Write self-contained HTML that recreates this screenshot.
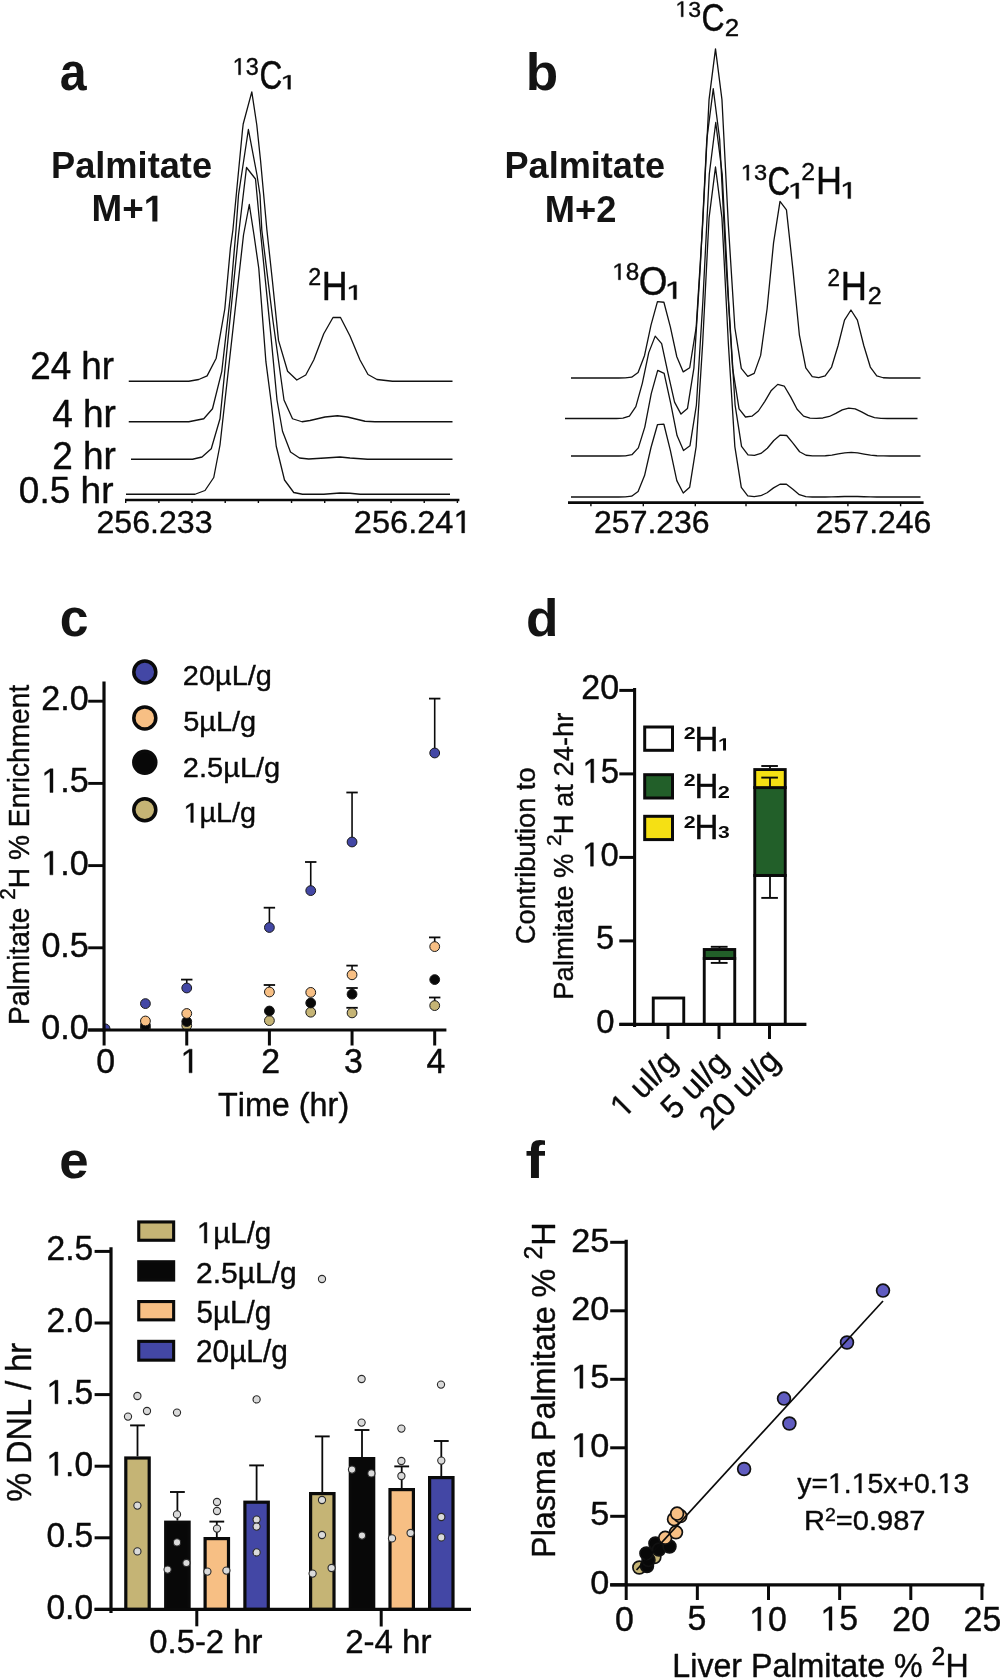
<!DOCTYPE html>
<html><head><meta charset="utf-8"><style>
html,body{margin:0;padding:0;background:#fff;}
svg{display:block;will-change:transform;font-family:"Liberation Sans",sans-serif;font-kerning:none;}
text{font-kerning:none;}
</style></head><body>
<svg width="1000" height="1678" viewBox="0 0 1000 1678">
<rect width="1000" height="1678" fill="#fff"/>
<g transform="matrix(0.89432,0.00000,0.00000,0.95491,59.835,90.496)" fill="#141414"><text x="0.000" y="0.000" font-size="54" font-weight="bold" xml:space="preserve">a</text></g>
<g transform="matrix(1.00685,0.00000,0.00000,1.00615,50.975,178.146)" fill="#141414"><text x="0.000" y="0.000" font-size="36" font-weight="bold" xml:space="preserve">Palmitate</text></g>
<g transform="matrix(1.02348,0.00000,0.00000,1.03765,91.535,221.400)" fill="#141414"><text x="0.000" y="0.000" font-size="36" font-weight="bold" xml:space="preserve">M+</text><path d="M59.414,0.000 L59.414,-20.566 L53.473,-16.857 L53.473,-20.742 L59.678,-24.768 L64.354,-24.768 L64.354,0.000 Z"/></g>
<g transform="matrix(1.05251,0.00000,0.00000,1.08827,30.147,378.600)" fill="#0a0a0a" stroke="#0a0a0a" stroke-width="0.374" stroke-linejoin="round"><text x="0.000" y="0.000" font-size="35" xml:space="preserve">24 hr</text></g>
<g transform="matrix(1.05726,0.00000,0.00000,1.09221,52.151,426.600)" fill="#0a0a0a" stroke="#0a0a0a" stroke-width="0.372" stroke-linejoin="round"><text x="0.000" y="0.000" font-size="35" xml:space="preserve">4 hr</text></g>
<g transform="matrix(1.05747,0.00000,0.00000,1.09616,52.139,469.100)" fill="#0a0a0a" stroke="#0a0a0a" stroke-width="0.372" stroke-linejoin="round"><text x="0.000" y="0.000" font-size="35" xml:space="preserve">2 hr</text></g>
<g transform="matrix(1.05767,0.00000,0.00000,1.07769,18.854,503.032)" fill="#0a0a0a" stroke="#0a0a0a" stroke-width="0.375" stroke-linejoin="round"><text x="0.000" y="0.000" font-size="35" xml:space="preserve">0.5 hr</text></g>
<g transform="matrix(1.07087,0.00000,0.00000,1.05931,96.484,532.890)" fill="#0a0a0a" stroke="#0a0a0a" stroke-width="0.376" stroke-linejoin="round"><text x="0.000" y="0.000" font-size="30" xml:space="preserve">256.233</text></g>
<g transform="matrix(1.08717,0.00000,0.00000,1.07343,353.760,532.886)" fill="#0a0a0a" stroke="#0a0a0a" stroke-width="0.370" stroke-linejoin="round"><text x="0.000" y="0.000" font-size="30" xml:space="preserve">256.24</text><path d="M99.302,0.000 L99.302,-18.120 L94.644,-14.795 L94.644,-17.285 L99.521,-20.640 L101.953,-20.640 L101.953,0.000 Z"/></g>
<g transform="matrix(1.06136,0.00000,0.00000,1.08499,232.654,74.767)" fill="#0a0a0a" stroke="#0a0a0a" stroke-width="0.373" stroke-linejoin="round"><path d="M5.532,0.000 L5.532,-13.288 L2.116,-10.850 L2.116,-12.676 L5.693,-15.136 L7.477,-15.136 L7.477,0.000 Z"/><text x="12.235" y="0.000" font-size="22" xml:space="preserve">3</text></g>
<g transform="matrix(0.83107,0.00000,0.00000,1.05188,259.496,88.910)" fill="#0a0a0a" stroke="#0a0a0a" stroke-width="0.428" stroke-linejoin="round"><text x="0.000" y="0.000" font-size="38" xml:space="preserve">C</text></g>
<g transform="matrix(1.49804,0.00000,0.00000,1.01019,280.318,89.200)" fill="#0a0a0a" stroke="#0a0a0a" stroke-width="0.325" stroke-linejoin="round"><path d="M5.029,0.000 L5.029,-12.080 L1.924,-9.863 L1.924,-11.523 L5.176,-13.760 L6.797,-13.760 L6.797,0.000 Z"/></g>
<g transform="matrix(1.05762,0.00000,0.00000,1.07413,308.230,285.200)" fill="#0a0a0a" stroke="#0a0a0a" stroke-width="0.375" stroke-linejoin="round"><text x="0.000" y="0.000" font-size="22" xml:space="preserve">2</text></g>
<g transform="matrix(0.94222,0.00000,0.00000,1.05953,321.863,299.700)" fill="#0a0a0a" stroke="#0a0a0a" stroke-width="0.400" stroke-linejoin="round"><text x="0.000" y="0.000" font-size="38" xml:space="preserve">H</text></g>
<g transform="matrix(1.58012,0.00000,0.00000,1.05380,345.960,299.700)" fill="#0a0a0a" stroke="#0a0a0a" stroke-width="0.310" stroke-linejoin="round"><path d="M5.029,0.000 L5.029,-12.080 L1.924,-9.863 L1.924,-11.523 L5.176,-13.760 L6.797,-13.760 L6.797,0.000 Z"/></g>
<polyline points="128.75,381.25 188.75,381.25 198.75,379.50 207.10,375.90 216.20,358.20 224.80,309.00 230.40,248.20 232.90,230.00 242.50,130.00 243.20,124.00 251.80,91.80 256.80,125.00 260.50,160.00 266.90,230.00 272.40,280.70 278.50,340.40 287.60,371.30 296.80,380.00 305.75,375.00 313.75,360.00 323.75,333.75 333.00,317.50 340.50,317.50 350.00,336.00 360.00,360.00 368.00,374.50 377.00,379.50 392.50,381.25 452.50,381.25" fill="none" stroke="#111" stroke-width="1.3" stroke-linejoin="round"/>
<polyline points="128.75,421.75 188.75,421.75 203.75,418.75 212.50,408.75 221.80,371.30 230.40,295.90 236.00,230.00 238.50,195.00 248.40,129.50 257.00,175.00 260.00,195.00 261.80,230.00 273.00,321.00 284.00,400.00 292.50,418.75 302.00,421.75 310.00,420.50 325.00,417.00 337.50,415.75 347.50,417.00 365.00,421.25 375.00,421.75 452.50,421.75" fill="none" stroke="#111" stroke-width="1.3" stroke-linejoin="round"/>
<polyline points="131.00,459.25 192.50,459.25 202.00,457.00 211.25,448.75 220.00,418.75 238.50,235.00 246.50,167.50 255.50,179.00 260.30,230.00 270.90,335.40 277.00,400.00 282.50,431.25 290.50,452.00 299.50,458.00 308.75,459.00 325.00,458.00 340.00,457.00 350.00,458.00 367.50,459.25 452.50,459.25" fill="none" stroke="#111" stroke-width="1.3" stroke-linejoin="round"/>
<polyline points="126.00,494.25 195.00,494.25 205.00,490.50 213.75,477.50 220.00,445.00 243.50,235.00 249.30,204.50 254.00,235.00 258.80,268.50 265.90,361.70 270.90,400.00 276.25,446.25 284.50,480.00 293.75,492.50 302.50,494.25 323.75,494.25 340.00,493.00 350.00,493.25 360.00,494.25 450.00,494.25" fill="none" stroke="#111" stroke-width="1.3" stroke-linejoin="round"/>
<line x1="125.00" y1="499.90" x2="459.40" y2="499.90" stroke="#0a0a0a" stroke-width="2.5" stroke-linecap="butt"/>
<line x1="125.70" y1="499.90" x2="125.70" y2="503.00" stroke="#0a0a0a" stroke-width="1.4" stroke-linecap="butt"/>
<line x1="158.87" y1="499.90" x2="158.87" y2="503.00" stroke="#0a0a0a" stroke-width="1.4" stroke-linecap="butt"/>
<line x1="192.04" y1="499.90" x2="192.04" y2="503.00" stroke="#0a0a0a" stroke-width="1.4" stroke-linecap="butt"/>
<line x1="225.21" y1="499.90" x2="225.21" y2="503.00" stroke="#0a0a0a" stroke-width="1.4" stroke-linecap="butt"/>
<line x1="258.38" y1="499.90" x2="258.38" y2="503.00" stroke="#0a0a0a" stroke-width="1.4" stroke-linecap="butt"/>
<line x1="291.55" y1="499.90" x2="291.55" y2="503.00" stroke="#0a0a0a" stroke-width="1.4" stroke-linecap="butt"/>
<line x1="324.72" y1="499.90" x2="324.72" y2="503.00" stroke="#0a0a0a" stroke-width="1.4" stroke-linecap="butt"/>
<line x1="357.89" y1="499.90" x2="357.89" y2="503.00" stroke="#0a0a0a" stroke-width="1.4" stroke-linecap="butt"/>
<line x1="391.06" y1="499.90" x2="391.06" y2="503.00" stroke="#0a0a0a" stroke-width="1.4" stroke-linecap="butt"/>
<line x1="424.23" y1="499.90" x2="424.23" y2="503.00" stroke="#0a0a0a" stroke-width="1.4" stroke-linecap="butt"/>
<line x1="457.40" y1="499.90" x2="457.40" y2="503.00" stroke="#0a0a0a" stroke-width="1.4" stroke-linecap="butt"/>
<g transform="matrix(1.00161,0.00000,0.00000,0.97631,525.751,90.495)" fill="#141414"><text x="0.000" y="0.000" font-size="53" font-weight="bold" xml:space="preserve">b</text></g>
<g transform="matrix(1.00366,0.00000,0.00000,1.00615,504.483,178.146)" fill="#141414"><text x="0.000" y="0.000" font-size="36" font-weight="bold" xml:space="preserve">Palmitate</text></g>
<g transform="matrix(1.00769,0.00000,0.00000,1.04230,544.773,221.900)" fill="#141414"><text x="0.000" y="0.000" font-size="36" font-weight="bold" xml:space="preserve">M+2</text></g>
<g transform="matrix(1.06613,0.00000,0.00000,1.07343,594.091,532.886)" fill="#0a0a0a" stroke="#0a0a0a" stroke-width="0.374" stroke-linejoin="round"><text x="0.000" y="0.000" font-size="30" xml:space="preserve">257.236</text></g>
<g transform="matrix(1.06708,0.00000,0.00000,1.07343,815.790,532.886)" fill="#0a0a0a" stroke="#0a0a0a" stroke-width="0.374" stroke-linejoin="round"><text x="0.000" y="0.000" font-size="30" xml:space="preserve">257.246</text></g>
<g transform="matrix(1.04733,0.00000,0.00000,1.01437,675.384,16.782)" fill="#0a0a0a" stroke="#0a0a0a" stroke-width="0.388" stroke-linejoin="round"><path d="M5.532,0.000 L5.532,-13.288 L2.116,-10.850 L2.116,-12.676 L5.693,-15.136 L7.477,-15.136 L7.477,0.000 Z"/><text x="12.235" y="0.000" font-size="22" xml:space="preserve">3</text></g>
<g transform="matrix(0.83938,0.00000,0.00000,1.04073,701.580,31.214)" fill="#0a0a0a" stroke="#0a0a0a" stroke-width="0.428" stroke-linejoin="round"><text x="0.000" y="0.000" font-size="38" xml:space="preserve">C</text></g>
<g transform="matrix(1.17736,0.00000,0.00000,1.06762,724.697,35.600)" fill="#0a0a0a" stroke="#0a0a0a" stroke-width="0.357" stroke-linejoin="round"><text x="0.000" y="0.000" font-size="22" xml:space="preserve">2</text></g>
<g transform="matrix(1.10288,0.00000,0.00000,1.06573,612.266,279.771)" fill="#0a0a0a" stroke="#0a0a0a" stroke-width="0.369" stroke-linejoin="round"><path d="M5.532,0.000 L5.532,-13.288 L2.116,-10.850 L2.116,-12.676 L5.693,-15.136 L7.477,-15.136 L7.477,0.000 Z"/><text x="12.235" y="0.000" font-size="22" xml:space="preserve">8</text></g>
<g transform="matrix(0.97149,0.00000,0.00000,1.07046,638.852,294.603)" fill="#0a0a0a" stroke="#0a0a0a" stroke-width="0.392" stroke-linejoin="round"><text x="0.000" y="0.000" font-size="38" xml:space="preserve">O</text></g>
<g transform="matrix(1.56706,0.00000,0.00000,1.12317,664.484,298.800)" fill="#0a0a0a" stroke="#0a0a0a" stroke-width="0.302" stroke-linejoin="round"><path d="M5.532,0.000 L5.532,-13.288 L2.116,-10.850 L2.116,-12.676 L5.693,-15.136 L7.477,-15.136 L7.477,0.000 Z"/></g>
<g transform="matrix(1.07071,0.00000,0.00000,1.00153,740.834,180.185)" fill="#0a0a0a" stroke="#0a0a0a" stroke-width="0.386" stroke-linejoin="round"><path d="M5.532,0.000 L5.532,-13.288 L2.116,-10.850 L2.116,-12.676 L5.693,-15.136 L7.477,-15.136 L7.477,0.000 Z"/><text x="12.235" y="0.000" font-size="22" xml:space="preserve">3</text></g>
<g transform="matrix(0.82691,0.00000,0.00000,1.06303,767.504,194.906)" fill="#0a0a0a" stroke="#0a0a0a" stroke-width="0.427" stroke-linejoin="round"><text x="0.000" y="0.000" font-size="38" xml:space="preserve">C</text></g>
<g transform="matrix(1.49244,0.00000,0.00000,1.03067,787.542,198.600)" fill="#0a0a0a" stroke="#0a0a0a" stroke-width="0.323" stroke-linejoin="round"><path d="M5.532,0.000 L5.532,-13.288 L2.116,-10.850 L2.116,-12.676 L5.693,-15.136 L7.477,-15.136 L7.477,0.000 Z"/></g>
<g transform="matrix(1.12747,0.00000,0.00000,1.08715,801.153,179.700)" fill="#0a0a0a" stroke="#0a0a0a" stroke-width="0.361" stroke-linejoin="round"><text x="0.000" y="0.000" font-size="22" xml:space="preserve">2</text></g>
<g transform="matrix(0.94693,0.00000,0.00000,1.03276,815.948,194.400)" fill="#0a0a0a" stroke="#0a0a0a" stroke-width="0.404" stroke-linejoin="round"><text x="0.000" y="0.000" font-size="38" xml:space="preserve">H</text></g>
<g transform="matrix(1.43647,0.00000,0.00000,1.07692,839.960,198.600)" fill="#0a0a0a" stroke="#0a0a0a" stroke-width="0.322" stroke-linejoin="round"><path d="M5.532,0.000 L5.532,-13.288 L2.116,-10.850 L2.116,-12.676 L5.693,-15.136 L7.477,-15.136 L7.477,0.000 Z"/></g>
<g transform="matrix(1.01771,0.00000,0.00000,1.06762,827.574,285.500)" fill="#0a0a0a" stroke="#0a0a0a" stroke-width="0.384" stroke-linejoin="round"><text x="0.000" y="0.000" font-size="22" xml:space="preserve">2</text></g>
<g transform="matrix(0.95635,0.00000,0.00000,1.05953,840.819,299.900)" fill="#0a0a0a" stroke="#0a0a0a" stroke-width="0.397" stroke-linejoin="round"><text x="0.000" y="0.000" font-size="38" xml:space="preserve">H</text></g>
<g transform="matrix(1.14742,0.00000,0.00000,1.11318,867.730,304.100)" fill="#0a0a0a" stroke="#0a0a0a" stroke-width="0.354" stroke-linejoin="round"><text x="0.000" y="0.000" font-size="22" xml:space="preserve">2</text></g>
<polyline points="571.00,378.00 573.60,378.00 580.05,378.00 586.50,378.00 592.95,378.00 599.40,378.00 605.85,378.00 612.30,378.00 618.75,378.00 625.20,377.94 631.65,377.22 638.10,372.41 644.55,355.46 651.00,325.11 657.45,301.56 663.90,302.24 670.35,326.83 676.80,356.75 683.25,371.88 689.70,367.75 696.15,327.68 702.60,225.60 709.05,99.60 715.50,48.80 721.95,99.60 728.40,225.60 734.85,327.73 741.30,368.40 747.75,376.44 754.20,373.39 760.65,355.39 767.10,308.74 773.55,242.85 780.00,201.45 786.45,209.83 792.90,269.31 799.35,334.80 805.80,367.96 812.25,376.67 818.70,377.66 825.15,375.80 831.60,367.01 838.05,345.77 844.50,320.20 850.95,310.00 857.40,320.20 863.85,345.77 870.30,367.01 876.75,375.80 883.20,377.75 889.65,377.98 896.10,378.00 902.55,378.00 909.00,378.00 915.45,378.00 920.50,378.00" fill="none" stroke="#111" stroke-width="1.3" stroke-linejoin="round"/>
<polyline points="565.00,418.50 571.35,418.50 577.80,418.50 584.25,418.50 590.70,418.50 597.15,418.50 603.60,418.50 610.05,418.50 616.50,418.48 622.95,418.20 629.40,416.05 635.85,406.62 642.30,383.32 648.75,352.63 655.20,336.13 661.65,343.57 668.10,373.54 674.55,402.16 681.00,414.09 687.45,408.53 693.90,368.12 700.35,265.85 706.80,139.64 713.25,88.75 719.70,139.64 726.15,265.85 732.60,368.14 739.05,408.85 745.50,417.01 751.95,416.16 758.40,411.01 764.85,401.37 771.30,390.44 777.75,384.36 784.20,386.01 790.65,396.84 797.10,409.28 803.55,416.11 810.00,418.12 816.45,418.38 822.90,417.98 829.35,416.48 835.80,413.41 842.25,409.83 848.70,408.04 855.15,408.79 861.60,411.90 868.05,415.42 874.50,417.55 880.95,418.31 887.40,418.48 893.85,418.50 900.30,418.50 906.75,418.50 913.20,418.50 917.50,418.50" fill="none" stroke="#111" stroke-width="1.3" stroke-linejoin="round"/>
<polyline points="571.00,456.00 573.85,456.00 580.30,456.00 586.75,456.00 593.20,456.00 599.65,456.00 606.10,456.00 612.55,456.00 619.00,455.99 625.45,455.88 631.90,454.68 638.35,447.90 644.80,427.08 651.25,393.65 657.70,370.39 664.15,373.38 670.60,402.93 677.05,435.57 683.50,450.55 689.95,445.79 696.40,405.04 702.85,301.61 709.30,173.97 715.75,122.50 722.20,173.97 728.65,301.61 735.10,405.08 741.55,446.31 748.00,454.91 754.45,455.43 760.90,453.49 767.35,448.26 773.80,440.54 780.25,435.10 786.70,435.52 793.15,443.34 799.60,451.74 806.05,455.27 812.50,455.93 818.95,455.95 825.40,455.75 831.85,455.11 838.30,453.96 844.75,452.80 851.20,452.40 857.65,452.86 864.10,454.04 870.55,455.17 877.00,455.77 883.45,455.96 889.90,456.00 896.35,456.00 902.80,456.00 909.25,456.00 915.70,456.00 920.50,456.00" fill="none" stroke="#111" stroke-width="1.3" stroke-linejoin="round"/>
<polyline points="571.00,497.00 573.60,497.00 580.05,497.00 586.50,497.00 592.95,497.00 599.40,497.00 605.85,497.00 612.30,497.00 618.75,497.00 625.20,496.93 631.65,496.17 638.10,491.46 644.55,475.62 651.00,447.50 657.45,424.70 663.90,424.22 670.35,450.41 676.80,480.61 683.25,493.06 689.70,487.16 696.15,446.60 702.60,344.23 709.05,217.93 715.50,167.00 721.95,217.93 728.40,344.23 734.85,446.61 741.30,487.41 747.75,495.96 754.20,496.71 760.65,495.73 767.10,492.72 773.55,487.89 780.00,484.20 786.45,484.26 792.90,489.33 799.35,494.66 805.80,496.66 812.25,496.98 818.70,497.00 825.15,496.99 831.60,496.93 838.05,496.75 844.50,496.51 850.95,496.40 857.40,496.50 863.85,496.75 870.30,496.93 876.75,496.99 883.20,497.00 889.65,497.00 896.10,497.00 902.55,497.00 909.00,497.00 915.45,497.00 920.50,497.00" fill="none" stroke="#111" stroke-width="1.3" stroke-linejoin="round"/>
<line x1="568.00" y1="502.60" x2="923.60" y2="502.60" stroke="#0a0a0a" stroke-width="2.7" stroke-linecap="butt"/>
<line x1="590.90" y1="502.60" x2="590.90" y2="506.30" stroke="#0a0a0a" stroke-width="1.4" stroke-linecap="butt"/>
<line x1="643.30" y1="502.60" x2="643.30" y2="506.30" stroke="#0a0a0a" stroke-width="1.4" stroke-linecap="butt"/>
<line x1="695.30" y1="502.60" x2="695.30" y2="506.30" stroke="#0a0a0a" stroke-width="1.4" stroke-linecap="butt"/>
<line x1="746.00" y1="502.60" x2="746.00" y2="506.30" stroke="#0a0a0a" stroke-width="1.4" stroke-linecap="butt"/>
<line x1="796.00" y1="502.60" x2="796.00" y2="506.30" stroke="#0a0a0a" stroke-width="1.4" stroke-linecap="butt"/>
<line x1="847.90" y1="502.60" x2="847.90" y2="506.30" stroke="#0a0a0a" stroke-width="1.4" stroke-linecap="butt"/>
<line x1="900.60" y1="502.60" x2="900.60" y2="506.30" stroke="#0a0a0a" stroke-width="1.4" stroke-linecap="butt"/>
<g transform="matrix(0.97667,0.00000,0.00000,0.97293,59.728,635.996)" fill="#141414"><text x="0.000" y="0.000" font-size="53" font-weight="bold" xml:space="preserve">c</text></g>
<circle cx="144.80" cy="672.00" r="11" fill="#4347a5" stroke="#0a0a0a" stroke-width="3.5"/>
<circle cx="144.80" cy="717.90" r="11" fill="#f7bf84" stroke="#0a0a0a" stroke-width="3.5"/>
<circle cx="144.80" cy="762.30" r="11" fill="#080808" stroke="#0a0a0a" stroke-width="3.5"/>
<circle cx="144.80" cy="809.80" r="11" fill="#c5b475" stroke="#0a0a0a" stroke-width="3.5"/>
<g transform="matrix(0.99707,0.00000,0.00000,0.96183,182.846,684.712)" fill="#0a0a0a" stroke="#0a0a0a" stroke-width="0.408" stroke-linejoin="round"><text x="0.000" y="0.000" font-size="29" xml:space="preserve">20µL/g</text></g>
<g transform="matrix(0.99827,0.00000,0.00000,0.96183,183.141,730.612)" fill="#0a0a0a" stroke="#0a0a0a" stroke-width="0.408" stroke-linejoin="round"><text x="0.000" y="0.000" font-size="29" xml:space="preserve">5µL/g</text></g>
<g transform="matrix(1.00097,0.00000,0.00000,0.96183,182.840,776.512)" fill="#0a0a0a" stroke="#0a0a0a" stroke-width="0.408" stroke-linejoin="round"><text x="0.000" y="0.000" font-size="29" xml:space="preserve">2.5µL/g</text></g>
<g transform="matrix(0.99281,0.00000,0.00000,0.96183,183.531,822.412)" fill="#0a0a0a" stroke="#0a0a0a" stroke-width="0.409" stroke-linejoin="round"><path d="M7.292,0.000 L7.292,-17.516 L2.790,-14.302 L2.790,-16.709 L7.505,-19.952 L9.855,-19.952 L9.855,0.000 Z"/><text x="16.128" y="0.000" font-size="29" xml:space="preserve">µL/g</text></g>
<clipPath id="cc"><rect x="104" y="600" width="400" height="430"/></clipPath><g clip-path="url(#cc)">
<circle cx="145.43" cy="1028.50" r="4.9" fill="#c5b475" stroke="#1a1a1a" stroke-width="1"/>
<circle cx="186.75" cy="1025.50" r="4.9" fill="#c5b475" stroke="#1a1a1a" stroke-width="1"/>
<circle cx="269.40" cy="1020.60" r="4.9" fill="#c5b475" stroke="#1a1a1a" stroke-width="1"/>
<circle cx="310.73" cy="1012.20" r="4.9" fill="#c5b475" stroke="#1a1a1a" stroke-width="1"/>
<line x1="352.05" y1="1012.90" x2="352.05" y2="1007.80" stroke="#0a0a0a" stroke-width="1.6" stroke-linecap="butt"/>
<line x1="346.35" y1="1007.80" x2="357.75" y2="1007.80" stroke="#0a0a0a" stroke-width="1.8" stroke-linecap="butt"/>
<circle cx="352.05" cy="1012.90" r="4.9" fill="#c5b475" stroke="#1a1a1a" stroke-width="1"/>
<line x1="434.70" y1="1005.60" x2="434.70" y2="997.50" stroke="#0a0a0a" stroke-width="1.6" stroke-linecap="butt"/>
<line x1="429.00" y1="997.50" x2="440.40" y2="997.50" stroke="#0a0a0a" stroke-width="1.8" stroke-linecap="butt"/>
<circle cx="434.70" cy="1005.60" r="4.9" fill="#c5b475" stroke="#1a1a1a" stroke-width="1"/>
<circle cx="145.43" cy="1025.50" r="4.9" fill="#080808" stroke="#1a1a1a" stroke-width="1"/>
<circle cx="186.75" cy="1021.60" r="4.9" fill="#080808" stroke="#1a1a1a" stroke-width="1"/>
<circle cx="269.40" cy="1011.00" r="4.9" fill="#080808" stroke="#1a1a1a" stroke-width="1"/>
<circle cx="310.73" cy="1003.00" r="4.9" fill="#080808" stroke="#1a1a1a" stroke-width="1"/>
<line x1="352.05" y1="994.20" x2="352.05" y2="988.00" stroke="#0a0a0a" stroke-width="1.6" stroke-linecap="butt"/>
<line x1="346.35" y1="988.00" x2="357.75" y2="988.00" stroke="#0a0a0a" stroke-width="1.8" stroke-linecap="butt"/>
<circle cx="352.05" cy="994.20" r="4.9" fill="#080808" stroke="#1a1a1a" stroke-width="1"/>
<circle cx="434.70" cy="979.60" r="4.9" fill="#080808" stroke="#1a1a1a" stroke-width="1"/>
<circle cx="145.43" cy="1021.00" r="4.9" fill="#f7bf84" stroke="#1a1a1a" stroke-width="1"/>
<circle cx="186.75" cy="1013.50" r="4.9" fill="#f7bf84" stroke="#1a1a1a" stroke-width="1"/>
<line x1="269.40" y1="992.00" x2="269.40" y2="985.00" stroke="#0a0a0a" stroke-width="1.6" stroke-linecap="butt"/>
<line x1="263.70" y1="985.00" x2="275.10" y2="985.00" stroke="#0a0a0a" stroke-width="1.8" stroke-linecap="butt"/>
<circle cx="269.40" cy="992.00" r="4.9" fill="#f7bf84" stroke="#1a1a1a" stroke-width="1"/>
<circle cx="310.73" cy="992.40" r="4.9" fill="#f7bf84" stroke="#1a1a1a" stroke-width="1"/>
<line x1="352.05" y1="974.80" x2="352.05" y2="965.60" stroke="#0a0a0a" stroke-width="1.6" stroke-linecap="butt"/>
<line x1="346.35" y1="965.60" x2="357.75" y2="965.60" stroke="#0a0a0a" stroke-width="1.8" stroke-linecap="butt"/>
<circle cx="352.05" cy="974.80" r="4.9" fill="#f7bf84" stroke="#1a1a1a" stroke-width="1"/>
<line x1="434.70" y1="946.60" x2="434.70" y2="937.40" stroke="#0a0a0a" stroke-width="1.6" stroke-linecap="butt"/>
<line x1="429.00" y1="937.40" x2="440.40" y2="937.40" stroke="#0a0a0a" stroke-width="1.8" stroke-linecap="butt"/>
<circle cx="434.70" cy="946.60" r="4.9" fill="#f7bf84" stroke="#1a1a1a" stroke-width="1"/>
<circle cx="105.09" cy="1028.80" r="4.9" fill="#4347a5" stroke="#1a1a1a" stroke-width="1"/>
<circle cx="145.43" cy="1003.60" r="4.9" fill="#4347a5" stroke="#1a1a1a" stroke-width="1"/>
<line x1="186.75" y1="988.00" x2="186.75" y2="979.60" stroke="#0a0a0a" stroke-width="1.6" stroke-linecap="butt"/>
<line x1="181.05" y1="979.60" x2="192.45" y2="979.60" stroke="#0a0a0a" stroke-width="1.8" stroke-linecap="butt"/>
<circle cx="186.75" cy="988.00" r="4.9" fill="#4347a5" stroke="#1a1a1a" stroke-width="1"/>
<line x1="269.40" y1="927.50" x2="269.40" y2="907.70" stroke="#0a0a0a" stroke-width="1.6" stroke-linecap="butt"/>
<line x1="263.70" y1="907.70" x2="275.10" y2="907.70" stroke="#0a0a0a" stroke-width="1.8" stroke-linecap="butt"/>
<circle cx="269.40" cy="927.50" r="4.9" fill="#4347a5" stroke="#1a1a1a" stroke-width="1"/>
<line x1="310.73" y1="890.60" x2="310.73" y2="862.00" stroke="#0a0a0a" stroke-width="1.6" stroke-linecap="butt"/>
<line x1="305.03" y1="862.00" x2="316.43" y2="862.00" stroke="#0a0a0a" stroke-width="1.8" stroke-linecap="butt"/>
<circle cx="310.73" cy="890.60" r="4.9" fill="#4347a5" stroke="#1a1a1a" stroke-width="1"/>
<line x1="352.05" y1="842.00" x2="352.05" y2="792.50" stroke="#0a0a0a" stroke-width="1.6" stroke-linecap="butt"/>
<line x1="346.35" y1="792.50" x2="357.75" y2="792.50" stroke="#0a0a0a" stroke-width="1.8" stroke-linecap="butt"/>
<circle cx="352.05" cy="842.00" r="4.9" fill="#4347a5" stroke="#1a1a1a" stroke-width="1"/>
<line x1="434.70" y1="753.00" x2="434.70" y2="698.60" stroke="#0a0a0a" stroke-width="1.6" stroke-linecap="butt"/>
<line x1="429.00" y1="698.60" x2="440.40" y2="698.60" stroke="#0a0a0a" stroke-width="1.8" stroke-linecap="butt"/>
<circle cx="434.70" cy="753.00" r="4.9" fill="#4347a5" stroke="#1a1a1a" stroke-width="1"/>
</g>
<line x1="104.00" y1="681.60" x2="104.00" y2="1031.60" stroke="#0a0a0a" stroke-width="3.2" stroke-linecap="butt"/>
<line x1="88.20" y1="1030.00" x2="446.40" y2="1030.00" stroke="#0a0a0a" stroke-width="3.2" stroke-linecap="butt"/>
<g transform="matrix(1.13778,0.00000,0.00000,1.14876,41.283,710.463)" fill="#0a0a0a" stroke="#0a0a0a" stroke-width="0.350" stroke-linejoin="round"><text x="0.000" y="0.000" font-size="30" xml:space="preserve">2.0</text></g>
<line x1="88.20" y1="1030.00" x2="104.00" y2="1030.00" stroke="#0a0a0a" stroke-width="2.9" stroke-linecap="butt"/>
<g transform="matrix(1.13778,0.00000,0.00000,1.14876,41.283,1039.263)" fill="#0a0a0a" stroke="#0a0a0a" stroke-width="0.350" stroke-linejoin="round"><text x="0.000" y="0.000" font-size="30" xml:space="preserve">0.0</text></g>
<line x1="88.20" y1="947.80" x2="104.00" y2="947.80" stroke="#0a0a0a" stroke-width="2.9" stroke-linecap="butt"/>
<g transform="matrix(1.13778,0.00000,0.00000,1.14876,41.383,957.063)" fill="#0a0a0a" stroke="#0a0a0a" stroke-width="0.350" stroke-linejoin="round"><text x="0.000" y="0.000" font-size="30" xml:space="preserve">0.5</text></g>
<line x1="88.20" y1="865.60" x2="104.00" y2="865.60" stroke="#0a0a0a" stroke-width="2.9" stroke-linecap="butt"/>
<g transform="matrix(1.13778,0.00000,0.00000,1.14876,41.283,874.863)" fill="#0a0a0a" stroke="#0a0a0a" stroke-width="0.350" stroke-linejoin="round"><path d="M7.544,0.000 L7.544,-18.120 L2.886,-14.795 L2.886,-17.285 L7.764,-20.640 L10.195,-20.640 L10.195,0.000 Z"/><text x="16.685" y="0.000" font-size="30" xml:space="preserve">.0</text></g>
<line x1="88.20" y1="783.40" x2="104.00" y2="783.40" stroke="#0a0a0a" stroke-width="2.9" stroke-linecap="butt"/>
<g transform="matrix(1.13778,0.00000,0.00000,1.14876,41.383,792.487)" fill="#0a0a0a" stroke="#0a0a0a" stroke-width="0.350" stroke-linejoin="round"><path d="M7.544,0.000 L7.544,-18.120 L2.886,-14.795 L2.886,-17.285 L7.764,-20.640 L10.195,-20.640 L10.195,0.000 Z"/><text x="16.685" y="0.000" font-size="30" xml:space="preserve">.5</text></g>
<line x1="88.20" y1="701.20" x2="104.00" y2="701.20" stroke="#0a0a0a" stroke-width="2.9" stroke-linecap="butt"/>
<g transform="matrix(1.12964,0.00000,0.00000,1.14876,96.176,1072.863)" fill="#0a0a0a" stroke="#0a0a0a" stroke-width="0.351" stroke-linejoin="round"><text x="0.000" y="0.000" font-size="30" xml:space="preserve">0</text></g>
<g transform="matrix(1.12964,0.00000,0.00000,1.14876,180.562,1072.855)" fill="#0a0a0a" stroke="#0a0a0a" stroke-width="0.351" stroke-linejoin="round"><path d="M7.544,0.000 L7.544,-18.120 L2.886,-14.795 L2.886,-17.285 L7.764,-20.640 L10.195,-20.640 L10.195,0.000 Z"/></g>
<g transform="matrix(1.12964,0.00000,0.00000,1.14876,261.176,1073.032)" fill="#0a0a0a" stroke="#0a0a0a" stroke-width="0.351" stroke-linejoin="round"><text x="0.000" y="0.000" font-size="30" xml:space="preserve">2</text></g>
<g transform="matrix(1.12964,0.00000,0.00000,1.14876,343.925,1072.863)" fill="#0a0a0a" stroke="#0a0a0a" stroke-width="0.351" stroke-linejoin="round"><text x="0.000" y="0.000" font-size="30" xml:space="preserve">3</text></g>
<g transform="matrix(1.12964,0.00000,0.00000,1.14876,426.584,1072.855)" fill="#0a0a0a" stroke="#0a0a0a" stroke-width="0.351" stroke-linejoin="round"><text x="0.000" y="0.000" font-size="30" xml:space="preserve">4</text></g>
<line x1="104.10" y1="1030.00" x2="104.10" y2="1045.50" stroke="#0a0a0a" stroke-width="3" stroke-linecap="butt"/>
<line x1="186.75" y1="1030.00" x2="186.75" y2="1045.50" stroke="#0a0a0a" stroke-width="3" stroke-linecap="butt"/>
<line x1="269.40" y1="1030.00" x2="269.40" y2="1045.50" stroke="#0a0a0a" stroke-width="3" stroke-linecap="butt"/>
<line x1="352.05" y1="1030.00" x2="352.05" y2="1045.50" stroke="#0a0a0a" stroke-width="3" stroke-linecap="butt"/>
<line x1="434.70" y1="1030.00" x2="434.70" y2="1045.50" stroke="#0a0a0a" stroke-width="3" stroke-linecap="butt"/>
<g transform="matrix(1.07873,0.00000,0.00000,1.10021,217.973,1115.667)" fill="#0a0a0a" stroke="#0a0a0a" stroke-width="0.367" stroke-linejoin="round"><text x="0.000" y="0.000" font-size="30" xml:space="preserve">Time (hr)</text></g>
<g transform="matrix(0.00000,-0.97119,1.01796,0.00000,28.512,1025.010)" fill="#0a0a0a" stroke="#0a0a0a" stroke-width="0.402" stroke-linejoin="round"><text x="0.000" y="0.000" font-size="29" xml:space="preserve">Palmitate </text><text x="128.942" y="-12.800" font-size="21.5" xml:space="preserve">2</text><text x="140.900" y="0.000" font-size="29" xml:space="preserve">H % Enrichment</text></g>
<g transform="matrix(1.00348,0.00000,0.00000,0.98274,525.919,635.991)" fill="#141414"><text x="0.000" y="0.000" font-size="53" font-weight="bold" xml:space="preserve">d</text></g>
<rect x="653.25" y="998.01" width="30.50" height="26.39" fill="#fff" stroke="#0a0a0a" stroke-width="2.9"/>
<rect x="704.25" y="958.50" width="30.50" height="65.90" fill="#fff" stroke="#0a0a0a" stroke-width="2.9"/>
<rect x="704.25" y="949.50" width="30.50" height="9.00" fill="#225f29" stroke="#0a0a0a" stroke-width="2.9"/>
<rect x="754.75" y="875.44" width="30.50" height="148.96" fill="#fff" stroke="#0a0a0a" stroke-width="2.9"/>
<rect x="754.75" y="787.59" width="30.50" height="87.84" fill="#225f29" stroke="#0a0a0a" stroke-width="2.9"/>
<rect x="754.75" y="769.56" width="30.50" height="18.04" fill="#f5e014" stroke="#0a0a0a" stroke-width="2.9"/>
<line x1="661.00" y1="997.90" x2="676.00" y2="997.90" stroke="#0a0a0a" stroke-width="1.8" stroke-linecap="butt"/>
<line x1="719.50" y1="958.50" x2="719.50" y2="962.90" stroke="#0a0a0a" stroke-width="1.8" stroke-linecap="butt"/>
<line x1="710.80" y1="962.90" x2="727.60" y2="962.90" stroke="#0a0a0a" stroke-width="1.9" stroke-linecap="butt"/>
<line x1="719.50" y1="946.80" x2="719.50" y2="948.00" stroke="#0a0a0a" stroke-width="1.8" stroke-linecap="butt"/>
<line x1="710.80" y1="946.80" x2="727.60" y2="946.80" stroke="#0a0a0a" stroke-width="1.9" stroke-linecap="butt"/>
<line x1="770.00" y1="875.40" x2="770.00" y2="897.90" stroke="#0a0a0a" stroke-width="1.8" stroke-linecap="butt"/>
<line x1="761.30" y1="897.90" x2="777.90" y2="897.90" stroke="#0a0a0a" stroke-width="1.9" stroke-linecap="butt"/>
<line x1="770.00" y1="766.00" x2="770.00" y2="768.50" stroke="#0a0a0a" stroke-width="1.8" stroke-linecap="butt"/>
<line x1="761.30" y1="766.00" x2="777.90" y2="766.00" stroke="#0a0a0a" stroke-width="1.9" stroke-linecap="butt"/>
<line x1="770.00" y1="777.60" x2="770.00" y2="787.00" stroke="#0a0a0a" stroke-width="1.8" stroke-linecap="butt"/>
<line x1="761.30" y1="777.60" x2="777.90" y2="777.60" stroke="#0a0a0a" stroke-width="1.9" stroke-linecap="butt"/>
<line x1="634.60" y1="688.00" x2="634.60" y2="1027.00" stroke="#0a0a0a" stroke-width="3.1" stroke-linecap="butt"/>
<line x1="619.50" y1="1024.40" x2="806.40" y2="1024.40" stroke="#0a0a0a" stroke-width="3.1" stroke-linecap="butt"/>
<line x1="619.30" y1="1024.40" x2="634.60" y2="1024.40" stroke="#0a0a0a" stroke-width="3" stroke-linecap="butt"/>
<line x1="619.30" y1="940.90" x2="634.60" y2="940.90" stroke="#0a0a0a" stroke-width="3" stroke-linecap="butt"/>
<line x1="619.30" y1="857.40" x2="634.60" y2="857.40" stroke="#0a0a0a" stroke-width="3" stroke-linecap="butt"/>
<line x1="619.30" y1="773.90" x2="634.60" y2="773.90" stroke="#0a0a0a" stroke-width="3" stroke-linecap="butt"/>
<line x1="619.30" y1="690.40" x2="634.60" y2="690.40" stroke="#0a0a0a" stroke-width="3" stroke-linecap="butt"/>
<line x1="668.00" y1="1024.40" x2="668.00" y2="1039.00" stroke="#0a0a0a" stroke-width="3" stroke-linecap="butt"/>
<line x1="719.00" y1="1024.40" x2="719.00" y2="1039.00" stroke="#0a0a0a" stroke-width="3" stroke-linecap="butt"/>
<line x1="769.50" y1="1024.40" x2="769.50" y2="1039.00" stroke="#0a0a0a" stroke-width="3" stroke-linecap="butt"/>
<g transform="matrix(1.03089,0.00000,0.00000,1.03577,581.289,698.866)" fill="#0a0a0a" stroke="#0a0a0a" stroke-width="0.387" stroke-linejoin="round"><text x="0.000" y="0.000" font-size="33" xml:space="preserve">20</text></g>
<g transform="matrix(0.99857,0.00000,0.00000,1.04231,582.530,782.664)" fill="#0a0a0a" stroke="#0a0a0a" stroke-width="0.392" stroke-linejoin="round"><path d="M8.298,0.000 L8.298,-19.932 L3.174,-16.274 L3.174,-19.014 L8.540,-22.704 L11.215,-22.704 L11.215,0.000 Z"/><text x="18.353" y="0.000" font-size="33" xml:space="preserve">5</text></g>
<g transform="matrix(0.99557,0.00000,0.00000,1.03149,582.240,866.168)" fill="#0a0a0a" stroke="#0a0a0a" stroke-width="0.395" stroke-linejoin="round"><path d="M8.298,0.000 L8.298,-19.932 L3.174,-16.274 L3.174,-19.014 L8.540,-22.704 L11.215,-22.704 L11.215,0.000 Z"/><text x="18.353" y="0.000" font-size="33" xml:space="preserve">0</text></g>
<g transform="matrix(0.99067,0.00000,0.00000,1.02928,595.991,949.368)" fill="#0a0a0a" stroke="#0a0a0a" stroke-width="0.396" stroke-linejoin="round"><text x="0.000" y="0.000" font-size="33" xml:space="preserve">5</text></g>
<g transform="matrix(0.99525,0.00000,0.00000,1.02721,596.217,1032.869)" fill="#0a0a0a" stroke="#0a0a0a" stroke-width="0.396" stroke-linejoin="round"><text x="0.000" y="0.000" font-size="33" xml:space="preserve">0</text></g>
<g transform="matrix(0.76110,-0.76110,0.76110,0.76110,623.418,1119.395)" fill="#0a0a0a" stroke="#0a0a0a" stroke-width="0.372" stroke-linejoin="round"><path d="M7.544,0.000 L7.544,-18.120 L2.886,-14.795 L2.886,-17.285 L7.764,-20.640 L10.195,-20.640 L10.195,0.000 Z"/><text x="16.685" y="0.000" font-size="30" xml:space="preserve"> ul/g</text></g>
<g transform="matrix(0.76728,-0.76728,0.76728,0.76728,673.972,1120.945)" fill="#0a0a0a" stroke="#0a0a0a" stroke-width="0.369" stroke-linejoin="round"><text x="0.000" y="0.000" font-size="30" xml:space="preserve">5 ul/g</text></g>
<g transform="matrix(0.76932,-0.76932,0.76932,0.76932,712.594,1131.581)" fill="#0a0a0a" stroke="#0a0a0a" stroke-width="0.368" stroke-linejoin="round"><text x="0.000" y="0.000" font-size="30" xml:space="preserve">20 ul/g</text></g>
<rect x="644.70" y="727.00" width="27.80" height="23.30" fill="#fff" stroke="#0a0a0a" stroke-width="3"/>
<rect x="644.70" y="774.70" width="27.80" height="23.30" fill="#225f29" stroke="#0a0a0a" stroke-width="3"/>
<rect x="644.70" y="816.30" width="27.80" height="23.30" fill="#f5e014" stroke="#0a0a0a" stroke-width="3"/>
<g transform="matrix(1.25847,0.00000,0.00000,0.99409,683.758,739.000)" fill="#0a0a0a"><text x="0.000" y="0.000" font-size="17" font-weight="bold" xml:space="preserve">2</text></g>
<g transform="matrix(1.00360,0.00000,0.00000,1.03948,694.483,750.800)" fill="#0a0a0a" stroke="#0a0a0a" stroke-width="0.392" stroke-linejoin="round"><text x="0.000" y="0.000" font-size="33" xml:space="preserve">H</text></g>
<g transform="matrix(1.26504,0.00000,0.00000,1.04311,718.030,750.500)" fill="#0a0a0a"><path d="M3.968,0.000 L3.968,-9.712 L1.162,-7.960 L1.162,-9.795 L4.092,-11.696 L6.300,-11.696 L6.300,0.000 Z"/></g>
<g transform="matrix(1.25847,0.00000,0.00000,0.99409,683.758,786.400)" fill="#0a0a0a"><text x="0.000" y="0.000" font-size="17" font-weight="bold" xml:space="preserve">2</text></g>
<g transform="matrix(1.00360,0.00000,0.00000,1.03948,694.483,798.200)" fill="#0a0a0a" stroke="#0a0a0a" stroke-width="0.392" stroke-linejoin="round"><text x="0.000" y="0.000" font-size="33" xml:space="preserve">H</text></g>
<g transform="matrix(1.28290,0.00000,0.00000,0.99409,717.744,797.800)" fill="#0a0a0a"><text x="0.000" y="0.000" font-size="17" font-weight="bold" xml:space="preserve">2</text></g>
<g transform="matrix(1.25847,0.00000,0.00000,0.99409,683.758,827.600)" fill="#0a0a0a"><text x="0.000" y="0.000" font-size="17" font-weight="bold" xml:space="preserve">2</text></g>
<g transform="matrix(1.00360,0.00000,0.00000,1.03948,694.483,839.400)" fill="#0a0a0a" stroke="#0a0a0a" stroke-width="0.392" stroke-linejoin="round"><text x="0.000" y="0.000" font-size="33" xml:space="preserve">H</text></g>
<g transform="matrix(1.24257,0.00000,0.00000,0.95348,718.015,837.818)" fill="#0a0a0a"><text x="0.000" y="0.000" font-size="17" font-weight="bold" xml:space="preserve">3</text></g>
<g transform="matrix(0.00000,-1.00635,1.04901,0.00000,535.123,944.180)" fill="#0a0a0a" stroke="#0a0a0a" stroke-width="0.389" stroke-linejoin="round"><text x="0.000" y="0.000" font-size="27" xml:space="preserve">Contribution to</text></g>
<g transform="matrix(0.00000,-0.99578,1.00619,0.00000,572.980,999.646)" fill="#0a0a0a" stroke="#0a0a0a" stroke-width="0.400" stroke-linejoin="round"><text x="0.000" y="0.000" font-size="27.5" xml:space="preserve">Palmitate % </text><text x="154.365" y="-12.250" font-size="21" xml:space="preserve">2</text><text x="166.044" y="0.000" font-size="27.5" xml:space="preserve">H at 24-hr</text></g>
<g transform="matrix(0.97787,0.00000,0.00000,0.96336,59.187,1178.492)" fill="#141414"><text x="0.000" y="0.000" font-size="54" font-weight="bold" xml:space="preserve">e</text></g>
<line x1="137.50" y1="1456.40" x2="137.50" y2="1425.40" stroke="#0a0a0a" stroke-width="1.8" stroke-linecap="butt"/>
<line x1="130.10" y1="1425.40" x2="144.90" y2="1425.40" stroke="#0a0a0a" stroke-width="1.9" stroke-linecap="butt"/>
<rect x="125.80" y="1458.00" width="23.40" height="151.40" fill="#c5b475" stroke="#0a0a0a" stroke-width="3.2"/>
<line x1="177.40" y1="1520.60" x2="177.40" y2="1492.00" stroke="#0a0a0a" stroke-width="1.8" stroke-linecap="butt"/>
<line x1="170.00" y1="1492.00" x2="184.80" y2="1492.00" stroke="#0a0a0a" stroke-width="1.9" stroke-linecap="butt"/>
<rect x="165.70" y="1522.20" width="23.40" height="87.20" fill="#080808" stroke="#0a0a0a" stroke-width="3.2"/>
<line x1="216.80" y1="1537.00" x2="216.80" y2="1521.60" stroke="#0a0a0a" stroke-width="1.8" stroke-linecap="butt"/>
<line x1="209.40" y1="1521.60" x2="224.20" y2="1521.60" stroke="#0a0a0a" stroke-width="1.9" stroke-linecap="butt"/>
<rect x="205.10" y="1538.60" width="23.40" height="70.80" fill="#f7bf84" stroke="#0a0a0a" stroke-width="3.2"/>
<line x1="256.60" y1="1500.60" x2="256.60" y2="1465.40" stroke="#0a0a0a" stroke-width="1.8" stroke-linecap="butt"/>
<line x1="249.20" y1="1465.40" x2="264.00" y2="1465.40" stroke="#0a0a0a" stroke-width="1.9" stroke-linecap="butt"/>
<rect x="244.90" y="1502.20" width="23.40" height="107.20" fill="#4347a5" stroke="#0a0a0a" stroke-width="3.2"/>
<line x1="322.30" y1="1492.00" x2="322.30" y2="1436.40" stroke="#0a0a0a" stroke-width="1.8" stroke-linecap="butt"/>
<line x1="314.90" y1="1436.40" x2="329.70" y2="1436.40" stroke="#0a0a0a" stroke-width="1.9" stroke-linecap="butt"/>
<rect x="310.60" y="1493.60" width="23.40" height="115.80" fill="#c5b475" stroke="#0a0a0a" stroke-width="3.2"/>
<line x1="362.00" y1="1457.00" x2="362.00" y2="1430.00" stroke="#0a0a0a" stroke-width="1.8" stroke-linecap="butt"/>
<line x1="354.60" y1="1430.00" x2="369.40" y2="1430.00" stroke="#0a0a0a" stroke-width="1.9" stroke-linecap="butt"/>
<rect x="350.30" y="1458.60" width="23.40" height="150.80" fill="#080808" stroke="#0a0a0a" stroke-width="3.2"/>
<line x1="401.70" y1="1488.00" x2="401.70" y2="1466.40" stroke="#0a0a0a" stroke-width="1.8" stroke-linecap="butt"/>
<line x1="394.30" y1="1466.40" x2="409.10" y2="1466.40" stroke="#0a0a0a" stroke-width="1.9" stroke-linecap="butt"/>
<rect x="390.00" y="1489.60" width="23.40" height="119.80" fill="#f7bf84" stroke="#0a0a0a" stroke-width="3.2"/>
<line x1="441.30" y1="1476.00" x2="441.30" y2="1441.00" stroke="#0a0a0a" stroke-width="1.8" stroke-linecap="butt"/>
<line x1="433.90" y1="1441.00" x2="448.70" y2="1441.00" stroke="#0a0a0a" stroke-width="1.9" stroke-linecap="butt"/>
<rect x="429.60" y="1477.60" width="23.40" height="131.80" fill="#4347a5" stroke="#0a0a0a" stroke-width="3.2"/>
<circle cx="137.40" cy="1396.00" r="3.6" fill="#dadada" stroke="#2a2a2a" stroke-width="1.1"/>
<circle cx="128.00" cy="1416.60" r="3.6" fill="#dadada" stroke="#2a2a2a" stroke-width="1.1"/>
<circle cx="147.00" cy="1411.00" r="3.6" fill="#dadada" stroke="#2a2a2a" stroke-width="1.1"/>
<circle cx="137.40" cy="1505.60" r="3.6" fill="#dadada" stroke="#2a2a2a" stroke-width="1.1"/>
<circle cx="137.40" cy="1551.40" r="3.6" fill="#dadada" stroke="#2a2a2a" stroke-width="1.1"/>
<circle cx="177.00" cy="1412.60" r="3.6" fill="#dadada" stroke="#2a2a2a" stroke-width="1.1"/>
<circle cx="177.00" cy="1514.40" r="3.6" fill="#dadada" stroke="#2a2a2a" stroke-width="1.1"/>
<circle cx="177.00" cy="1542.40" r="3.6" fill="#dadada" stroke="#2a2a2a" stroke-width="1.1"/>
<circle cx="167.60" cy="1569.60" r="3.6" fill="#dadada" stroke="#2a2a2a" stroke-width="1.1"/>
<circle cx="186.40" cy="1563.00" r="3.6" fill="#dadada" stroke="#2a2a2a" stroke-width="1.1"/>
<circle cx="217.00" cy="1502.00" r="3.6" fill="#dadada" stroke="#2a2a2a" stroke-width="1.1"/>
<circle cx="217.00" cy="1511.00" r="3.6" fill="#dadada" stroke="#2a2a2a" stroke-width="1.1"/>
<circle cx="217.00" cy="1528.60" r="3.6" fill="#dadada" stroke="#2a2a2a" stroke-width="1.1"/>
<circle cx="207.40" cy="1571.60" r="3.6" fill="#dadada" stroke="#2a2a2a" stroke-width="1.1"/>
<circle cx="226.40" cy="1570.60" r="3.6" fill="#dadada" stroke="#2a2a2a" stroke-width="1.1"/>
<circle cx="256.60" cy="1399.40" r="3.6" fill="#dadada" stroke="#2a2a2a" stroke-width="1.1"/>
<circle cx="256.60" cy="1519.60" r="3.6" fill="#dadada" stroke="#2a2a2a" stroke-width="1.1"/>
<circle cx="256.60" cy="1526.60" r="3.6" fill="#dadada" stroke="#2a2a2a" stroke-width="1.1"/>
<circle cx="256.60" cy="1552.40" r="3.6" fill="#dadada" stroke="#2a2a2a" stroke-width="1.1"/>
<circle cx="322.00" cy="1279.00" r="3.6" fill="#dadada" stroke="#2a2a2a" stroke-width="1.1"/>
<circle cx="322.00" cy="1500.00" r="3.6" fill="#dadada" stroke="#2a2a2a" stroke-width="1.1"/>
<circle cx="322.00" cy="1535.00" r="3.6" fill="#dadada" stroke="#2a2a2a" stroke-width="1.1"/>
<circle cx="312.60" cy="1573.60" r="3.6" fill="#dadada" stroke="#2a2a2a" stroke-width="1.1"/>
<circle cx="331.60" cy="1568.00" r="3.6" fill="#dadada" stroke="#2a2a2a" stroke-width="1.1"/>
<circle cx="361.60" cy="1379.00" r="3.6" fill="#dadada" stroke="#2a2a2a" stroke-width="1.1"/>
<circle cx="361.60" cy="1422.60" r="3.6" fill="#dadada" stroke="#2a2a2a" stroke-width="1.1"/>
<circle cx="352.00" cy="1469.60" r="3.6" fill="#dadada" stroke="#2a2a2a" stroke-width="1.1"/>
<circle cx="371.40" cy="1473.40" r="3.6" fill="#dadada" stroke="#2a2a2a" stroke-width="1.1"/>
<circle cx="362.00" cy="1535.60" r="3.6" fill="#dadada" stroke="#2a2a2a" stroke-width="1.1"/>
<circle cx="401.40" cy="1428.60" r="3.6" fill="#dadada" stroke="#2a2a2a" stroke-width="1.1"/>
<circle cx="401.40" cy="1461.00" r="3.6" fill="#dadada" stroke="#2a2a2a" stroke-width="1.1"/>
<circle cx="401.40" cy="1476.00" r="3.6" fill="#dadada" stroke="#2a2a2a" stroke-width="1.1"/>
<circle cx="392.00" cy="1538.40" r="3.6" fill="#dadada" stroke="#2a2a2a" stroke-width="1.1"/>
<circle cx="410.60" cy="1533.00" r="3.6" fill="#dadada" stroke="#2a2a2a" stroke-width="1.1"/>
<circle cx="441.00" cy="1384.60" r="3.6" fill="#dadada" stroke="#2a2a2a" stroke-width="1.1"/>
<circle cx="441.30" cy="1460.60" r="3.6" fill="#dadada" stroke="#2a2a2a" stroke-width="1.1"/>
<circle cx="441.30" cy="1517.00" r="3.6" fill="#dadada" stroke="#2a2a2a" stroke-width="1.1"/>
<circle cx="441.30" cy="1537.40" r="3.6" fill="#dadada" stroke="#2a2a2a" stroke-width="1.1"/>
<line x1="111.00" y1="1247.30" x2="111.00" y2="1613.00" stroke="#0a0a0a" stroke-width="3.2" stroke-linecap="butt"/>
<line x1="94.60" y1="1609.40" x2="471.00" y2="1609.40" stroke="#0a0a0a" stroke-width="3.2" stroke-linecap="butt"/>
<line x1="94.60" y1="1609.40" x2="111.00" y2="1609.40" stroke="#0a0a0a" stroke-width="3" stroke-linecap="butt"/>
<line x1="94.60" y1="1537.80" x2="111.00" y2="1537.80" stroke="#0a0a0a" stroke-width="3" stroke-linecap="butt"/>
<line x1="94.60" y1="1466.20" x2="111.00" y2="1466.20" stroke="#0a0a0a" stroke-width="3" stroke-linecap="butt"/>
<line x1="94.60" y1="1394.60" x2="111.00" y2="1394.60" stroke="#0a0a0a" stroke-width="3" stroke-linecap="butt"/>
<line x1="94.60" y1="1323.00" x2="111.00" y2="1323.00" stroke="#0a0a0a" stroke-width="3" stroke-linecap="butt"/>
<line x1="94.60" y1="1251.40" x2="111.00" y2="1251.40" stroke="#0a0a0a" stroke-width="3" stroke-linecap="butt"/>
<g transform="matrix(1.11980,0.00000,0.00000,1.13935,46.610,1260.466)" fill="#0a0a0a" stroke="#0a0a0a" stroke-width="0.354" stroke-linejoin="round"><text x="0.000" y="0.000" font-size="30" xml:space="preserve">2.5</text></g>
<g transform="matrix(1.11980,0.00000,0.00000,1.13935,46.412,1618.766)" fill="#0a0a0a" stroke="#0a0a0a" stroke-width="0.354" stroke-linejoin="round"><text x="0.000" y="0.000" font-size="30" xml:space="preserve">0.0</text></g>
<g transform="matrix(1.11980,0.00000,0.00000,1.13935,46.510,1547.166)" fill="#0a0a0a" stroke="#0a0a0a" stroke-width="0.354" stroke-linejoin="round"><text x="0.000" y="0.000" font-size="30" xml:space="preserve">0.5</text></g>
<g transform="matrix(1.11980,0.00000,0.00000,1.13935,46.412,1475.566)" fill="#0a0a0a" stroke="#0a0a0a" stroke-width="0.354" stroke-linejoin="round"><path d="M7.544,0.000 L7.544,-18.120 L2.886,-14.795 L2.886,-17.285 L7.764,-20.640 L10.195,-20.640 L10.195,0.000 Z"/><text x="16.685" y="0.000" font-size="30" xml:space="preserve">.0</text></g>
<g transform="matrix(1.11980,0.00000,0.00000,1.13935,46.510,1403.791)" fill="#0a0a0a" stroke="#0a0a0a" stroke-width="0.354" stroke-linejoin="round"><path d="M7.544,0.000 L7.544,-18.120 L2.886,-14.795 L2.886,-17.285 L7.764,-20.640 L10.195,-20.640 L10.195,0.000 Z"/><text x="16.685" y="0.000" font-size="30" xml:space="preserve">.5</text></g>
<g transform="matrix(1.11980,0.00000,0.00000,1.13935,46.412,1332.366)" fill="#0a0a0a" stroke="#0a0a0a" stroke-width="0.354" stroke-linejoin="round"><text x="0.000" y="0.000" font-size="30" xml:space="preserve">2.0</text></g>
<line x1="196.80" y1="1609.40" x2="196.80" y2="1626.30" stroke="#0a0a0a" stroke-width="3" stroke-linecap="butt"/>
<line x1="381.20" y1="1609.40" x2="381.20" y2="1626.50" stroke="#0a0a0a" stroke-width="3" stroke-linecap="butt"/>
<g transform="matrix(1.09419,0.00000,0.00000,1.09390,149.318,1653.180)" fill="#0a0a0a" stroke="#0a0a0a" stroke-width="0.366" stroke-linejoin="round"><text x="0.000" y="0.000" font-size="30" xml:space="preserve">0.5-2 hr</text></g>
<g transform="matrix(1.10264,0.00000,0.00000,1.09484,345.136,1653.300)" fill="#0a0a0a" stroke="#0a0a0a" stroke-width="0.364" stroke-linejoin="round"><text x="0.000" y="0.000" font-size="30" xml:space="preserve">2-4 hr</text></g>
<rect x="138.75" y="1221.95" width="34.90" height="18.30" fill="#c5b475" stroke="#0a0a0a" stroke-width="3.1"/>
<rect x="138.75" y="1261.75" width="34.90" height="18.30" fill="#080808" stroke="#0a0a0a" stroke-width="3.1"/>
<rect x="138.75" y="1301.55" width="34.90" height="18.30" fill="#f7bf84" stroke="#0a0a0a" stroke-width="3.1"/>
<rect x="138.75" y="1341.35" width="34.90" height="18.80" fill="#4347a5" stroke="#0a0a0a" stroke-width="3.1"/>
<g transform="matrix(0.98371,0.00000,0.00000,0.99772,196.861,1243.089)" fill="#0a0a0a" stroke="#0a0a0a" stroke-width="0.404" stroke-linejoin="round"><path d="M7.544,0.000 L7.544,-18.120 L2.886,-14.795 L2.886,-17.285 L7.764,-20.640 L10.195,-20.640 L10.195,0.000 Z"/><text x="16.685" y="0.000" font-size="30" xml:space="preserve">µL/g</text></g>
<g transform="matrix(0.99948,0.00000,0.00000,1.01202,195.992,1283.000)" fill="#0a0a0a" stroke="#0a0a0a" stroke-width="0.398" stroke-linejoin="round"><text x="0.000" y="0.000" font-size="30" xml:space="preserve">2.5µL/g</text></g>
<g transform="matrix(0.98843,0.00000,0.00000,1.02275,196.513,1323.033)" fill="#0a0a0a" stroke="#0a0a0a" stroke-width="0.398" stroke-linejoin="round"><text x="0.000" y="0.000" font-size="30" xml:space="preserve">5µL/g</text></g>
<g transform="matrix(0.99420,0.00000,0.00000,1.01560,196.000,1362.477)" fill="#0a0a0a" stroke="#0a0a0a" stroke-width="0.398" stroke-linejoin="round"><text x="0.000" y="0.000" font-size="30" xml:space="preserve">20µL/g</text></g>
<g transform="matrix(0.00000,-1.01639,1.07660,0.00000,30.564,1501.859)" fill="#0a0a0a" stroke="#0a0a0a" stroke-width="0.382" stroke-linejoin="round"><text x="0.000" y="0.000" font-size="32" xml:space="preserve">% DNL / hr</text></g>
<g transform="matrix(1.09811,0.00000,0.00000,0.98296,525.405,1178.000)" fill="#141414"><text x="0.000" y="0.000" font-size="53" font-weight="bold" xml:space="preserve">f</text></g>
<circle cx="654.40" cy="1557.00" r="6.4" fill="#c5b475" stroke="#111" stroke-width="1.7"/>
<circle cx="639.30" cy="1567.50" r="6.4" fill="#c5b475" stroke="#111" stroke-width="1.7"/>
<circle cx="647.00" cy="1566.00" r="6.4" fill="#080808" stroke="#111" stroke-width="1.7"/>
<circle cx="648.50" cy="1560.00" r="6.4" fill="#080808" stroke="#111" stroke-width="1.7"/>
<circle cx="646.40" cy="1553.40" r="6.4" fill="#080808" stroke="#111" stroke-width="1.7"/>
<circle cx="655.40" cy="1543.50" r="6.4" fill="#080808" stroke="#111" stroke-width="1.7"/>
<circle cx="659.00" cy="1549.50" r="6.4" fill="#080808" stroke="#111" stroke-width="1.7"/>
<circle cx="669.50" cy="1546.50" r="6.4" fill="#080808" stroke="#111" stroke-width="1.7"/>
<circle cx="665.20" cy="1537.80" r="6.4" fill="#f7bf84" stroke="#111" stroke-width="1.7"/>
<circle cx="676.00" cy="1532.30" r="6.4" fill="#f7bf84" stroke="#111" stroke-width="1.7"/>
<circle cx="674.00" cy="1519.20" r="6.4" fill="#f7bf84" stroke="#111" stroke-width="1.7"/>
<circle cx="680.30" cy="1516.10" r="6.4" fill="#f7bf84" stroke="#111" stroke-width="1.7"/>
<circle cx="677.10" cy="1513.60" r="6.4" fill="#f7bf84" stroke="#111" stroke-width="1.7"/>
<circle cx="744.10" cy="1469.00" r="6.4" fill="#605cc0" stroke="#111" stroke-width="1.7"/>
<circle cx="784.00" cy="1398.60" r="6.4" fill="#605cc0" stroke="#111" stroke-width="1.7"/>
<circle cx="789.40" cy="1423.50" r="6.4" fill="#605cc0" stroke="#111" stroke-width="1.7"/>
<circle cx="847.00" cy="1342.50" r="6.4" fill="#605cc0" stroke="#111" stroke-width="1.7"/>
<circle cx="883.00" cy="1290.60" r="6.4" fill="#605cc0" stroke="#111" stroke-width="1.7"/>
<line x1="636.50" y1="1570.00" x2="883.00" y2="1301.00" stroke="#0a0a0a" stroke-width="1.7" stroke-linecap="butt"/>
<line x1="626.20" y1="1239.70" x2="626.20" y2="1586.00" stroke="#0a0a0a" stroke-width="3.2" stroke-linecap="butt"/>
<line x1="610.20" y1="1584.80" x2="984.40" y2="1584.80" stroke="#0a0a0a" stroke-width="3.2" stroke-linecap="butt"/>
<line x1="610.20" y1="1584.80" x2="626.20" y2="1584.80" stroke="#0a0a0a" stroke-width="3" stroke-linecap="butt"/>
<line x1="626.20" y1="1584.80" x2="626.20" y2="1600.00" stroke="#0a0a0a" stroke-width="3" stroke-linecap="butt"/>
<line x1="610.20" y1="1516.30" x2="626.20" y2="1516.30" stroke="#0a0a0a" stroke-width="3" stroke-linecap="butt"/>
<line x1="697.35" y1="1584.80" x2="697.35" y2="1600.00" stroke="#0a0a0a" stroke-width="3" stroke-linecap="butt"/>
<line x1="610.20" y1="1447.80" x2="626.20" y2="1447.80" stroke="#0a0a0a" stroke-width="3" stroke-linecap="butt"/>
<line x1="768.50" y1="1584.80" x2="768.50" y2="1600.00" stroke="#0a0a0a" stroke-width="3" stroke-linecap="butt"/>
<line x1="610.20" y1="1379.30" x2="626.20" y2="1379.30" stroke="#0a0a0a" stroke-width="3" stroke-linecap="butt"/>
<line x1="839.65" y1="1584.80" x2="839.65" y2="1600.00" stroke="#0a0a0a" stroke-width="3" stroke-linecap="butt"/>
<line x1="610.20" y1="1310.80" x2="626.20" y2="1310.80" stroke="#0a0a0a" stroke-width="3" stroke-linecap="butt"/>
<line x1="910.80" y1="1584.80" x2="910.80" y2="1600.00" stroke="#0a0a0a" stroke-width="3" stroke-linecap="butt"/>
<line x1="610.20" y1="1242.30" x2="626.20" y2="1242.30" stroke="#0a0a0a" stroke-width="3" stroke-linecap="butt"/>
<line x1="981.95" y1="1584.80" x2="981.95" y2="1600.00" stroke="#0a0a0a" stroke-width="3" stroke-linecap="butt"/>
<g transform="matrix(1.03682,0.00000,0.00000,1.03149,571.279,1251.768)" fill="#0a0a0a" stroke="#0a0a0a" stroke-width="0.387" stroke-linejoin="round"><text x="0.000" y="0.000" font-size="33" xml:space="preserve">25</text></g>
<g transform="matrix(1.03682,0.00000,0.00000,1.03149,590.208,1594.018)" fill="#0a0a0a" stroke="#0a0a0a" stroke-width="0.387" stroke-linejoin="round"><text x="0.000" y="0.000" font-size="33" xml:space="preserve">0</text></g>
<g transform="matrix(1.03682,0.00000,0.00000,1.03149,590.308,1525.343)" fill="#0a0a0a" stroke="#0a0a0a" stroke-width="0.387" stroke-linejoin="round"><text x="0.000" y="0.000" font-size="33" xml:space="preserve">5</text></g>
<g transform="matrix(1.03682,0.00000,0.00000,1.03149,571.179,1457.018)" fill="#0a0a0a" stroke="#0a0a0a" stroke-width="0.387" stroke-linejoin="round"><path d="M8.298,0.000 L8.298,-19.932 L3.174,-16.274 L3.174,-19.014 L8.540,-22.704 L11.215,-22.704 L11.215,0.000 Z"/><text x="18.353" y="0.000" font-size="33" xml:space="preserve">0</text></g>
<g transform="matrix(1.03682,0.00000,0.00000,1.03149,571.279,1388.343)" fill="#0a0a0a" stroke="#0a0a0a" stroke-width="0.387" stroke-linejoin="round"><path d="M8.298,0.000 L8.298,-19.932 L3.174,-16.274 L3.174,-19.014 L8.540,-22.704 L11.215,-22.704 L11.215,0.000 Z"/><text x="18.353" y="0.000" font-size="33" xml:space="preserve">5</text></g>
<g transform="matrix(1.03682,0.00000,0.00000,1.03149,571.179,1320.018)" fill="#0a0a0a" stroke="#0a0a0a" stroke-width="0.387" stroke-linejoin="round"><text x="0.000" y="0.000" font-size="33" xml:space="preserve">20</text></g>
<g transform="matrix(1.02695,0.00000,0.00000,1.04005,614.976,1630.665)" fill="#0a0a0a" stroke="#0a0a0a" stroke-width="0.387" stroke-linejoin="round"><text x="0.000" y="0.000" font-size="33" xml:space="preserve">0</text></g>
<g transform="matrix(1.02695,0.00000,0.00000,1.04005,687.459,1630.313)" fill="#0a0a0a" stroke="#0a0a0a" stroke-width="0.387" stroke-linejoin="round"><text x="0.000" y="0.000" font-size="33" xml:space="preserve">5</text></g>
<g transform="matrix(1.02695,0.00000,0.00000,1.04005,749.284,1630.665)" fill="#0a0a0a" stroke="#0a0a0a" stroke-width="0.387" stroke-linejoin="round"><path d="M8.298,0.000 L8.298,-19.932 L3.174,-16.274 L3.174,-19.014 L8.540,-22.704 L11.215,-22.704 L11.215,0.000 Z"/><text x="18.353" y="0.000" font-size="33" xml:space="preserve">0</text></g>
<g transform="matrix(1.02695,0.00000,0.00000,1.04005,820.484,1630.313)" fill="#0a0a0a" stroke="#0a0a0a" stroke-width="0.387" stroke-linejoin="round"><path d="M8.298,0.000 L8.298,-19.932 L3.174,-16.274 L3.174,-19.014 L8.540,-22.704 L11.215,-22.704 L11.215,0.000 Z"/><text x="18.353" y="0.000" font-size="33" xml:space="preserve">5</text></g>
<g transform="matrix(1.02695,0.00000,0.00000,1.04005,892.362,1630.665)" fill="#0a0a0a" stroke="#0a0a0a" stroke-width="0.387" stroke-linejoin="round"><text x="0.000" y="0.000" font-size="33" xml:space="preserve">20</text></g>
<g transform="matrix(1.02695,0.00000,0.00000,1.04005,963.562,1630.665)" fill="#0a0a0a" stroke="#0a0a0a" stroke-width="0.387" stroke-linejoin="round"><text x="0.000" y="0.000" font-size="33" xml:space="preserve">25</text></g>
<g transform="matrix(0.98992,0.00000,0.00000,1.00766,672.361,1676.680)" fill="#0a0a0a" stroke="#0a0a0a" stroke-width="0.400" stroke-linejoin="round"><text x="0.000" y="0.000" font-size="32.5" xml:space="preserve">Liver Palmitate % </text><text x="261.904" y="-11.800" font-size="25" xml:space="preserve">2</text><text x="275.808" y="0.000" font-size="32.5" xml:space="preserve">H</text></g>
<g transform="matrix(0.00000,-0.99506,1.02392,0.00000,554.775,1557.903)" fill="#0a0a0a" stroke="#0a0a0a" stroke-width="0.396" stroke-linejoin="round"><text x="0.000" y="0.000" font-size="32.5" xml:space="preserve">Plasma Palmitate % </text><text x="299.832" y="-12.600" font-size="25" xml:space="preserve">2</text><text x="313.735" y="0.000" font-size="32.5" xml:space="preserve">H</text></g>
<g transform="matrix(1.01309,0.00000,0.00000,1.00152,797.331,1492.881)" fill="#0a0a0a" stroke="#0a0a0a" stroke-width="0.397" stroke-linejoin="round"><text x="0.000" y="0.000" font-size="28" xml:space="preserve">y=</text><path d="M37.393,0.000 L37.393,-16.912 L33.045,-13.809 L33.045,-16.133 L37.598,-19.264 L39.867,-19.264 L39.867,0.000 Z"/><text x="45.924" y="0.000" font-size="28" xml:space="preserve">.</text><path d="M60.744,0.000 L60.744,-16.912 L56.396,-13.809 L56.396,-16.133 L60.949,-19.264 L63.219,-19.264 L63.219,0.000 Z"/><text x="69.275" y="0.000" font-size="28" xml:space="preserve">5x+0.</text><path d="M145.592,0.000 L145.592,-16.912 L141.244,-13.809 L141.244,-16.133 L145.797,-19.264 L148.066,-19.264 L148.066,0.000 Z"/><text x="154.123" y="0.000" font-size="28" xml:space="preserve">3</text></g>
<g transform="matrix(1.03888,0.00000,0.00000,0.96816,803.914,1529.535)" fill="#0a0a0a" stroke="#0a0a0a" stroke-width="0.399" stroke-linejoin="round"><text x="0.000" y="0.000" font-size="28" xml:space="preserve">R</text><text x="20.221" y="-8.600" font-size="18.8" xml:space="preserve">2</text><text x="30.676" y="0.000" font-size="28" xml:space="preserve">=0.987</text></g>
</svg></body></html>
